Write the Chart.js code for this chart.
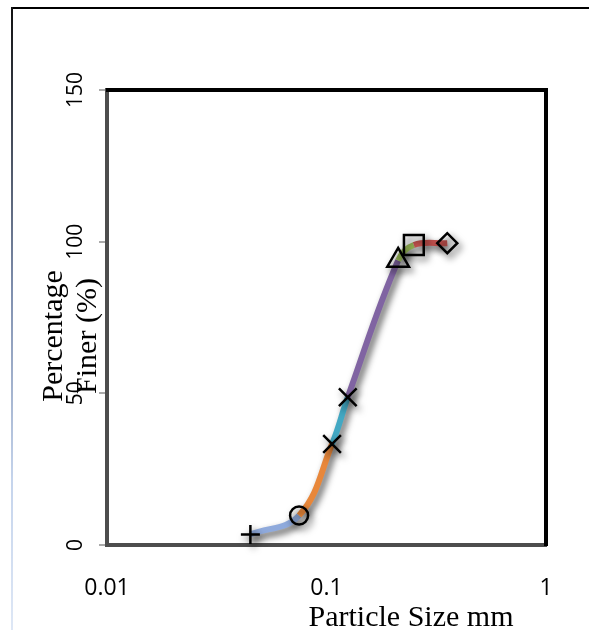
<!DOCTYPE html>
<html><head><meta charset="utf-8">
<script src="https://cdn.jsdelivr.net/npm/chart.js@4"></script>
<style>
html,body{margin:0;padding:0;background:#fff;}
#wrap{position:relative;width:589px;height:630px;overflow:hidden;}
canvas{position:absolute;left:0;top:0;}
#topline{position:absolute;left:11px;top:7px;width:600px;height:2px;background:#000;}
#leftline{position:absolute;left:11px;top:7px;width:2px;height:630px;background:linear-gradient(#111, #7f8fae 45%, #c5d4ec 75%, #dfe8f6);}
</style></head>
<body><div id="wrap"><canvas id="c" width="589" height="630"></canvas><div id="topline"></div><div id="leftline"></div></div>
<script>
const particleSizes = [0.045, 0.075, 0.106, 0.125, 0.212, 0.25, 0.355];
const percentFiner = [3.5, 9.7, 33.3, 48.7, 93.8, 98.9, 99.5];
const markerStyles = ['cross', 'circle', 'crossRot', 'crossRot', 'triangle', 'rect', 'rectRot'];
const markerRadii = [9.5, 9, 12.5, 12.5, 12.5, 14, 10];
const segmentColors = ['#8FAADC', '#E8873A', '#43A8C3', '#8064A2', '#9BBB59', '#C0504D'];
const xTickValues = [0.01, 0.1, 1];
const xTickLabels = ['0.01', '0.1', '1'];
const yTickValues = [0, 50, 100, 150];
const xTitle = 'Particle Size mm';
const yTitleLines = ['Percentage', 'Finer (%)'];

const points = particleSizes.map((x, i) => ({ x: x, y: percentFiner[i] }));

const shadowPlugin = {
  id: 'shadow',
  beforeDatasetDraw(chart) {
    const c = chart.ctx;
    c.save();
    c.shadowColor = 'rgba(0,0,0,0.65)';
    c.shadowBlur = 7;
    c.shadowOffsetX = 3;
    c.shadowOffsetY = 4;
  },
  afterDatasetDraw(chart) { chart.ctx.restore(); }
};

const framePlugin = {
  id: 'frame',
  afterDraw(chart) {
    const c = chart.ctx, a = chart.chartArea;
    c.save();
    c.strokeStyle = '#000';
    c.lineWidth = 4;
    c.beginPath();
    c.moveTo(a.left - 1, a.top);
    c.lineTo(a.right, a.top);
    c.lineTo(a.right, a.bottom + 1);
    c.stroke();
    c.fillStyle = '#000';
    c.font = '30px "Liberation Serif", "Times New Roman", serif';
    c.textAlign = 'center';
    c.textBaseline = 'alphabetic';
    c.fillText(xTitle, 411, 626);
    const baseX = [62, 96];
    yTitleLines.forEach((t, i) => {
      c.save();
      c.translate(baseX[i], 336);
      c.rotate(-Math.PI / 2);
      c.fillText(t, 0, 0);
      c.restore();
    });
    c.restore();
  }
};

new Chart(document.getElementById('c'), {
  type: 'line',
  data: {
    datasets: [{
      data: points,
      borderWidth: 6,
      tension: 0.4,
      fill: false,
      borderColor: segmentColors[0],
      segment: { borderColor: ctx => segmentColors[ctx.p0DataIndex] },
      pointStyle: markerStyles,
      pointRadius: markerRadii,
      pointBorderColor: '#000',
      pointBackgroundColor: 'rgba(255,255,255,0)',
      pointBorderWidth: 2.5,
      clip: false
    }]
  },
  options: {
    responsive: false,
    animation: false,
    events: [],
    layout: { padding: { top: 90, right: 43, left: 0, bottom: 0 } },
    plugins: { legend: { display: false }, tooltip: { enabled: false } },
    scales: {
      x: {
        type: 'logarithmic',
        min: 0.01,
        max: 1,
        afterBuildTicks: s => { s.ticks = xTickValues.map(v => ({ value: v })); },
        afterFit: s => { s.height = 85; },
        ticks: {
          callback: (v) => { const i = xTickValues.indexOf(v); return i >= 0 ? xTickLabels[i] : ''; },
          font: { family: '"Open Sans", sans-serif', size: 23 },
          color: '#000',
          padding: 30,
          maxRotation: 0,
          autoSkip: false
        },
        grid: { display: false, drawTicks: false },
        border: { display: true, color: '#4d4d4d', width: 4 }
      },
      y: {
        min: 0,
        max: 150,
        afterBuildTicks: s => { s.ticks = yTickValues.map(v => ({ value: v })); },
        afterFit: s => { s.width = 107; },
        ticks: {
          font: { family: '"Open Sans", sans-serif', size: 21 },
          color: '#000',
          minRotation: 90,
          maxRotation: 90,
          crossAlign: 'center',
          padding: 5
        },
        grid: { display: true, drawOnChartArea: false, drawTicks: true, tickLength: 8, color: '#aaaaaa', lineWidth: 2 },
        border: { display: true, color: '#4d4d4d', width: 4 }
      }
    }
  },
  plugins: [shadowPlugin, framePlugin]
});
</script>
</body></html>
